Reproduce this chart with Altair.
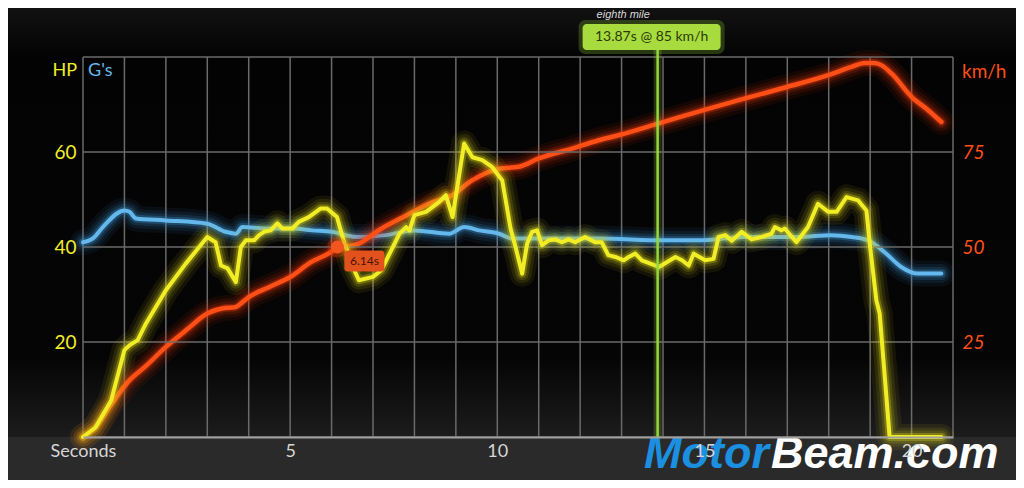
import altair as alt
import pandas as pd

# ---------------- data ----------------
hp_t = [0, 0.3, 0.68, 1.0, 1.12, 1.32, 1.52, 2.0, 2.48, 3.0, 3.2, 3.33, 3.49, 3.69, 3.81, 3.93,
        4.13, 4.25, 4.37, 4.53, 4.69, 4.81, 5.05, 5.21, 5.45, 5.73, 5.89, 6.13, 6.29, 6.5, 6.66,
        7.0, 7.2, 7.48, 7.64, 7.8, 7.88, 8.0, 8.28, 8.6, 8.76, 8.92, 9.2, 9.4, 9.64, 9.88, 10.12,
        10.32, 10.44, 10.6, 10.72, 10.84, 10.96, 11.08, 11.24, 11.4, 11.56, 11.72, 11.88, 12.12,
        12.36, 12.52, 12.68, 12.85, 13.05, 13.17, 13.33, 13.49, 13.9, 14.3, 14.46, 14.62, 14.74,
        15.02, 15.22, 15.34, 15.5, 15.66, 15.9, 16.14, 16.38, 16.62, 16.7, 16.86, 16.94, 17.22,
        17.5, 17.74, 17.99, 18.19, 18.43, 18.71, 18.91, 19.0, 19.15, 19.23, 19.47, 20.72]
hp_v = [0, 2, 7.7, 18.3, 19.3, 20.4, 23.9, 30.9, 36.5, 42.1, 41, 36.1, 35.5, 32.6, 40, 41.4,
        41.4, 42.5, 43.2, 43.5, 45, 43.9, 43.9, 45.3, 46.3, 48.1, 48.1, 46.3, 41.4, 36, 33,
        33.7, 35.1, 40, 42.8, 44.2, 43.5, 46.7, 47.4, 49.5, 50.9, 46.3, 61.8, 58.9, 58.3, 56.8, 54,
        43.9, 40, 34.4, 40.7, 43.2, 43.5, 40.4, 41.4, 41.6, 41, 41.6, 41, 42.1,
        41, 41, 38.3, 37.9, 37.2, 37.9, 38.6, 37.2, 35.8, 37.9, 37.2, 36.1, 38.6,
        37.2, 37.5, 42.1, 42.5, 41.3, 43.2, 41.6, 42.1, 42.8, 44.2, 43.5, 43.9, 41,
        44.2, 49.1, 47.4, 47.4, 50.5, 49.8, 47.7, 40, 28.8, 26, 0, 0]

kmh_t = [0, 0.3, 0.64, 1.12, 1.5, 2.0, 2.5, 3.0, 3.36, 3.69, 3.85, 4.0, 4.5, 5.0, 5.5, 6.0, 6.14,
         6.4, 6.66, 7.14, 7.8, 8.44, 8.84, 9.4, 10.04, 10.52, 11.0, 11.8, 12.45, 12.92, 13.98,
         14.98, 15.98, 16.99, 17.99, 18.55, 18.87, 19.1, 19.28, 19.52, 20.0, 20.4, 20.72]
kmh_v = [0, 2.5, 7.9, 14.9, 18.5, 23.7, 28.2, 32.5, 33.8, 34.2, 35.5, 36.8, 39.5, 42.1, 46, 48.8, 50,
         50.2, 50.9, 54.4, 58.3, 61.8, 63.2, 67.6, 70.6, 71.1, 73.3, 75.9, 78.1, 79.4, 82.8,
         86, 89.1, 92.1, 95.2, 97.4, 98.4, 98.4, 97.8, 95.6, 89.5, 86, 82.9]

g_t = [0, 0.24, 0.48, 1.0, 1.12, 1.28, 2.0, 3.0, 3.44, 3.69, 3.85, 4.41, 5.05, 5.53, 6.0, 6.6, 7.3,
       8.0, 8.84, 9.2, 9.56, 10.04, 10.36, 12.45, 13.98, 14.86, 15.98, 17.26, 18.06, 18.55,
       18.95, 19.35, 19.75, 20.15, 20.72]
g_v = [0.205, 0.209, 0.221, 0.2385, 0.237, 0.23, 0.228, 0.2245, 0.216, 0.214, 0.221, 0.2195,
       0.2195, 0.2175, 0.216, 0.2105, 0.2125, 0.2175, 0.214, 0.221, 0.2175, 0.214, 0.209, 0.209,
       0.207, 0.207, 0.2105, 0.2105, 0.2125, 0.2105, 0.207, 0.1945, 0.179, 0.172, 0.172]

sec_grid = list(range(0, 22))
hp_grid = [0, 20, 40, 60, 80]
hp_ticks = [20, 40, 60]
kmh_ticks = [25, 50, 75]

marker_t = [6.14]
marker_kmh = [50]
marker_label = ["6.14s"]

eighth_t = [13.87]
eighth_label = ["13.87s @ 85 km/h"]
eighth_title = ["eighth mile"]

# ---------------- styling ----------------
W, H = 870, 380
FONT = "Lato"
YELLOW = "#f2ee26"
YELLOW_GLOW = "#d8d21a"
ORANGE = "#ff4f16"
ORANGE_GLOW = "#e8380a"
BLUE = "#64b8ec"
BLUE_GLOW = "#3a8cc8"
GREEN = "#94d83c"
GRID = "#6a6a6a"

x_scale = alt.Scale(domain=[0, 21], nice=False, zero=False)
x_axis = alt.Axis(values=sec_grid,
                  labelExpr="datum.value == 0 ? 'Seconds' : (datum.value % 5 == 0 ? datum.label : '')",
                  title=None, grid=False, ticks=False, domain=True, domainColor="#a0a0a0",
                  domainWidth=2, labelColor="#d6d6d6", labelFont=FONT, labelFontSize=18,
                  labelPadding=5, labelOverlap=False, labelFlush=False, zindex=1)
X = alt.X("t:Q", scale=x_scale, axis=x_axis)

hp_scale = alt.Scale(domain=[0, 80], nice=False, zero=False)
hp_axis = alt.Axis(values=hp_ticks, orient="left", title=None, grid=False, ticks=False,
                   domain=False, labelColor=YELLOW, labelFont=FONT, labelFontSize=19,
                   labelPadding=7, zindex=1)
kmh_scale = alt.Scale(domain=[0, 100], nice=False, zero=False)
kmh_axis = alt.Axis(values=kmh_ticks, orient="right", title=None, grid=False, ticks=False,
                    domain=False, labelColor=ORANGE, labelFont=FONT, labelFontSize=19,
                    labelFontStyle="italic", labelPadding=9, zindex=1)
g_scale = alt.Scale(domain=[0, 0.4], nice=False, zero=False)

hp_df = pd.DataFrame({"t": hp_t, "hp": hp_v})
kmh_df = pd.DataFrame({"t": kmh_t, "kmh": kmh_v})
g_df = pd.DataFrame({"t": g_t, "g": g_v})


def glow_layers(df, Y, color, glow, interp, widths, core=4):
    base = alt.Chart(df).encode(x=X, y=Y)
    layers = [base.mark_line(color=glow, strokeWidth=w, opacity=o, interpolate=interp,
                             strokeCap="round", strokeJoin="round") for w, o in widths]
    layers.append(base.mark_line(color=color, strokeWidth=core, interpolate=interp,
                                 strokeCap="round", strokeJoin="round"))
    return layers


GLOW = [(26, 0.08), (19, 0.11), (13, 0.17), (8, 0.32)]

# background panel (plot + top area) with a subtle gradient
bg = alt.Chart(pd.DataFrame({"a": [0]})).mark_rect(
    fill=alt.Gradient(gradient="linear", x1=0, x2=0, y1=0, y2=1,
                      stops=[alt.GradientStop(color="#131313", offset=0),
                             alt.GradientStop(color="#030303", offset=0.13),
                             alt.GradientStop(color="#050505", offset=0.82),
                             alt.GradientStop(color="#1c1c1c", offset=1)])
).encode(x=alt.value(-80), x2=alt.value(940), y=alt.value(-55), y2=alt.value(H))

# grid
xgrid = alt.Chart(pd.DataFrame({"t": sec_grid})).mark_rule(color=GRID, strokeWidth=1.5).encode(x=X)

Y_hp = alt.Y("hp:Q", scale=hp_scale, axis=hp_axis)
ygrid = alt.Chart(pd.DataFrame({"hp": hp_grid})).mark_rule(color=GRID, strokeWidth=1.5).encode(y=Y_hp)

hp_group = alt.layer(ygrid, *glow_layers(hp_df, Y_hp, YELLOW, YELLOW_GLOW, "linear", GLOW))

Y_g = alt.Y("g:Q", scale=g_scale, axis=None)
g_group = alt.layer(*glow_layers(g_df, Y_g, BLUE, BLUE_GLOW, "monotone", GLOW))

Y_kmh = alt.Y("kmh:Q", scale=kmh_scale, axis=kmh_axis)
kmh_group = alt.layer(*glow_layers(kmh_df, Y_kmh, ORANGE, ORANGE_GLOW, "monotone", GLOW, core=4.5))

# 6.14s marker
mk_df = pd.DataFrame({"t": marker_t, "kmh": marker_kmh, "label": marker_label})
Y_mk = alt.Y("kmh:Q", scale=kmh_scale, axis=None)
mk_base = alt.Chart(mk_df).encode(x=X, y=Y_mk)
marker_group = alt.layer(
    mk_base.mark_point(filled=True, shape="circle", size=420, color=ORANGE_GLOW, opacity=0.3),
    mk_base.mark_point(filled=True, shape="circle", size=170, color="#f0561e", opacity=1),
    mk_base.mark_rect(width=40, height=21, cornerRadius=3, xOffset=27, yOffset=14,
                      color="#e2521c"),
    mk_base.mark_text(dx=27, dy=14, font=FONT, fontSize=12, color="#4a1404").encode(text="label:N"),
)

# eighth mile marker
em_df = pd.DataFrame({"t": eighth_t, "label": eighth_label, "title": eighth_title})
em_base = alt.Chart(em_df).encode(x=X)
eighth_group = alt.layer(
    em_base.mark_rule(color=GREEN, strokeWidth=8, opacity=0.22).encode(y=alt.value(-7), y2=alt.value(H)),
    em_base.mark_rule(color=GREEN, strokeWidth=2.5).encode(y=alt.value(-7), y2=alt.value(H)),
    em_base.mark_rect(width=146, cornerRadius=7, xOffset=-6, fill=GREEN, opacity=0.25).encode(
        y=alt.value(-37), y2=alt.value(-3)),
    em_base.mark_rect(width=138, cornerRadius=4, xOffset=-6, fill="#a8dc3e").encode(
        y=alt.value(-33), y2=alt.value(-7)),
    em_base.mark_text(dx=-6, font=FONT, fontSize=14, color="#2c3a0b").encode(
        y=alt.value(-20), text="label:N"),
    em_base.mark_text(dx=-61, align="left", font="Liberation Sans", fontStyle="italic",
                      fontSize=11, color="#d8d8d8").encode(y=alt.value(-42), text="title:N"),
)


def label(txt, x, y, color, size, align="left", **kw):
    return alt.Chart(pd.DataFrame({"label": [txt]})).mark_text(
        align=align, baseline="middle", font=kw.pop("font", FONT), fontSize=size, color=color, **kw
    ).encode(x=alt.value(x), y=alt.value(y), text="label:N")


titles = alt.layer(
    label("HP", -6, 14, YELLOW, 18, align="right"),
    label("G's", 5, 14, BLUE, 18),
    label("km/h", 879, 15, ORANGE, 19),
    label("Motor", 686, 397, "#1b8fe0", 45, align="right", font="Liberation Sans",
          fontWeight="bold", fontStyle="italic"),
    label("Beam.com", 688, 397, "#ffffff", 45, font="Liberation Sans",
          fontWeight="bold", fontStyle="italic"),
)

chart = alt.layer(
    bg, xgrid, g_group, kmh_group, hp_group, marker_group, eighth_group, titles
).resolve_scale(
    y="independent"
).properties(
    width=W, height=H,
    autosize=alt.AutoSizeParams(type="none"),
    padding={"left": 75, "top": 49, "right": 63, "bottom": 43},
    background="#2a2a2a",
).configure_view(stroke=None)

chart.save("out.html", embed_options={"renderer": "svg", "actions": False})
